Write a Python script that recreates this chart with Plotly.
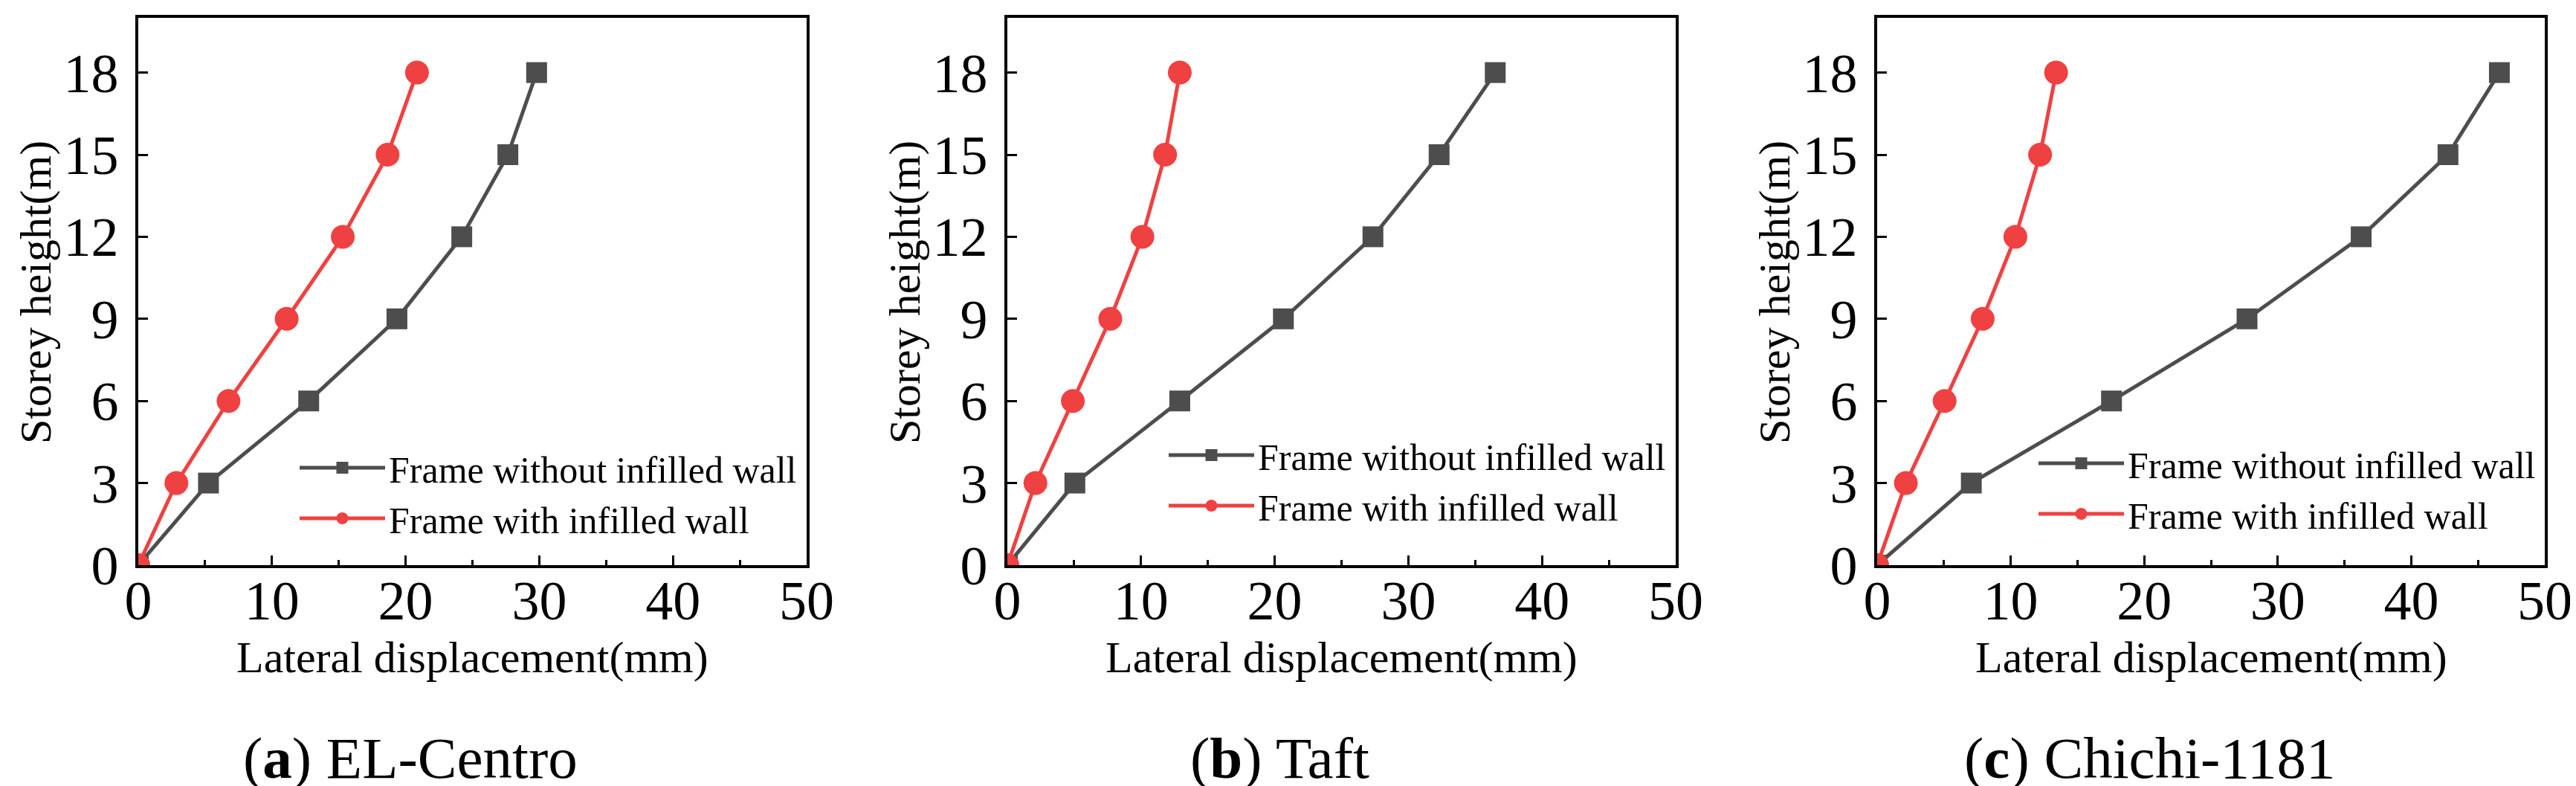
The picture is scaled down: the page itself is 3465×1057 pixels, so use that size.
"""Storey drift profiles for three ground motions."""

import plotly.graph_objects as go

FIG_W, FIG_H = 3465, 1057

# storey heights (m) shared by every panel
heights = [0, 3, 6, 9, 12, 15, 18]

# lateral displacement (mm)
elc_without = [0, 5.25, 12.75, 19.35, 24.2, 27.65, 29.8]
elc_with = [0, 2.85, 6.75, 11.1, 15.3, 18.65, 20.85]
taft_without = [0, 5.05, 12.9, 20.65, 27.35, 32.3, 36.5]
taft_with = [0, 2.1, 4.9, 7.7, 10.1, 11.8, 12.9]
chichi_without = [0, 7.05, 17.55, 27.7, 36.25, 42.75, 46.6]
chichi_with = [0, 2.15, 5.05, 7.9, 10.35, 12.2, 13.4]

captions = ["(<b>a</b>) EL-Centro", "(<b>b</b>) Taft", "(<b>c</b>) Chichi-1181"]
series_names = ["Frame without infilled wall", "Frame with infilled wall"]

GRAY = "#4d4d4d"
RED = "#ef4141"
FONT = "Liberation Serif, Times New Roman, serif"

# panel boxes in pixels (left, right), shared top/bottom
PANELS_PX = [(178, 1077), (1347, 2246), (2517, 3415)]
TOP_PX, BOTTOM_PX = 16, 752
LEGEND_TOP_PX = [582, 565, 576]

panels = [
    (elc_without, elc_with),
    (taft_without, taft_with),
    (chichi_without, chichi_with),
]

fig = go.Figure()
y_dom = [(FIG_H - BOTTOM_PX) / FIG_H, (FIG_H - TOP_PX) / FIG_H]

for i, ((left, right), (without, with_wall)) in enumerate(zip(PANELS_PX, panels)):
    n = "" if i == 0 else str(i + 1)
    legend_id = "legend" + n
    fig.add_trace(go.Scatter(
        x=without, y=heights, name=series_names[0], mode="lines+markers",
        line=dict(color=GRAY, width=5),
        marker=dict(symbol="square", size=28, color=GRAY),
        xaxis="x" + n, yaxis="y" + n, legend=legend_id,
    ))
    fig.add_trace(go.Scatter(
        x=with_wall, y=heights, name=series_names[1], mode="lines+markers",
        line=dict(color=RED, width=5),
        marker=dict(symbol="circle", size=32, color=RED),
        xaxis="x" + n, yaxis="y" + n, legend=legend_id,
    ))

    axis_common = dict(
        showline=True, linecolor="black", linewidth=3.5, mirror=True,
        ticks="inside", ticklen=13, tickwidth=3, tickcolor="black",
        showgrid=False, zeroline=False, automargin=False,
        tickfont=dict(family=FONT, size=74, color="black"),
    )
    fig.update_layout({
        "xaxis" + n: dict(
            domain=[left / FIG_W, right / FIG_W], anchor="y" + n,
            range=[0, 50], tick0=0, dtick=10,
            minor=dict(ticks="inside", ticklen=7, tickwidth=3, dtick=5,
                       tickcolor="black"),
            ticklabelstandoff=-20,
            **axis_common,
        ),
        "yaxis" + n: dict(
            domain=y_dom, anchor="x" + n,
            range=[0, 20], tick0=0, dtick=3,
            ticklabelstandoff=8,
            **axis_common,
        ),
        legend_id: dict(
            x=(left + 212) / FIG_W, y=1 - LEGEND_TOP_PX[i] / FIG_H,
            xanchor="left", yanchor="top",
            bgcolor="rgba(0,0,0,0)", itemwidth=115, itemsizing="trace",
            font=dict(family=FONT, size=50, color="black"),
            tracegroupgap=0,
        ),
    })

    xref = "x" + n + " domain"
    width = right - left
    fig.add_annotation(
        text="Lateral displacement(mm)", xref=xref, yref="paper",
        x=0.5, y=(FIG_H - 876) / FIG_H, showarrow=False,
        xanchor="center", yanchor="middle",
        font=dict(family=FONT, size=60, color="black"),
    )
    fig.add_annotation(
        text="Storey height(m)", xref=xref, yref="paper",
        x=-138 / width, y=(FIG_H - 385) / FIG_H, showarrow=False,
        textangle=-90, xanchor="center", yanchor="middle",
        font=dict(family=FONT, size=60, color="black"),
    )
    fig.add_annotation(
        text=captions[i], xref=xref, yref="paper",
        x=366 / width, y=(FIG_H - 1011) / FIG_H, showarrow=False,
        xanchor="center", yanchor="middle",
        font=dict(family=FONT, size=79, color="black"),
    )

fig.update_layout(
    width=FIG_W, height=FIG_H,
    margin=dict(l=0, r=0, t=0, b=0),
    paper_bgcolor="white", plot_bgcolor="white",
    showlegend=True,
)

fig.write_html("out.html")
